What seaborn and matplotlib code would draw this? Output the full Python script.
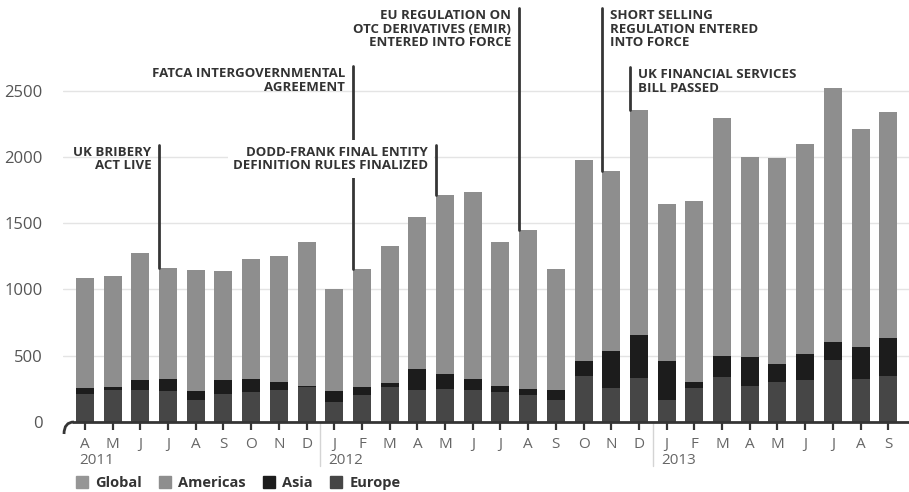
"""
plot.py
Stacked monthly bars by region with regulatory event markers.
"""

import pandas as pd
import seaborn as sns
import matplotlib.pyplot as plt
from matplotlib.path import Path
from matplotlib.patches import PathPatch, Patch
from matplotlib.transforms import IdentityTransform

MONTH_KEYS = pd.period_range("2011-04", "2013-09", freq="M").astype(str)
MONTH_LABELS = ["A", "M", "J", "J", "A", "S", "O", "N", "D",
                "J", "F", "M", "A", "M", "J", "J", "A", "S", "O", "N", "D",
                "J", "F", "M", "A", "M", "J", "J", "A", "S"]
YEARS = ["2011", "2012", "2013"]
YEAR_FIRST_BAR = [0, 9, 21]

EUROPE = [209, 239, 244, 234, 163, 214, 229, 244, 264, 151, 206, 264, 239, 251, 239,
          229, 204, 166, 345, 259, 332, 163, 254, 339, 269, 299, 314, 465, 327, 345]
ASIA = [47, 25, 75, 90, 73, 100, 95, 58, 10, 85, 58, 33, 158, 114, 88,
        42, 47, 73, 115, 276, 326, 294, 48, 156, 221, 141, 201, 138, 239, 288]
AMERICAS = [829, 836, 956, 836, 914, 826, 906, 953, 1081, 769, 889, 1028, 1150, 1345, 1406,
            1089, 1199, 913, 1515, 1357, 1694, 1186, 1365, 1801, 1506, 1552, 1583, 1919, 1646, 1702]
GLOBAL = [0] * 30

# event text, bar it points at, top of the marker line, side of the text, needs white box
EVENTS = [
    ("UK BRIBERY\nACT LIVE", 3, 2090, "left", False),
    ("FATCA INTERGOVERNMENTAL\nAGREEMENT", 10, 2685, "left", False),
    ("DODD-FRANK FINAL ENTITY\nDEFINITION RULES FINALIZED", 13, 2090, "left", True),
    ("EU REGULATION ON\nOTC DERIVATIVES (EMIR)\nENTERED INTO FORCE", 16, 3122, "left", False),
    ("SHORT SELLING\nREGULATION ENTERED\nINTO FORCE", 19, 3122, "right", False),
    ("UK FINANCIAL SERVICES\nBILL PASSED", 20, 2677, "right", False),
]

COLORS = {"Global": "#969696", "Americas": "#8e8e8e", "Asia": "#1c1c1c", "Europe": "#464646"}
DARK = "#353535"


def make_chart():
    df = pd.DataFrame({"month": MONTH_KEYS, "Europe": EUROPE, "Asia": ASIA,
                       "Americas": AMERICAS, "Global": GLOBAL})
    df["asia_top"] = df["Europe"] + df["Asia"]
    df["americas_top"] = df["asia_top"] + df["Americas"]
    df["total"] = df["americas_top"] + df["Global"]

    sns.set_style("white")
    plt.rcParams["font.family"] = ["Open Sans", "DejaVu Sans"]

    fig = plt.figure(figsize=(9.09, 4.92), dpi=100)
    ax = fig.add_axes([63 / 909, 70 / 492, 846 / 909, 384.5 / 492])

    # stacked bars, drawn as cumulative layers from the top down
    for col, name in [("total", "Global"), ("americas_top", "Americas"),
                      ("asia_top", "Asia"), ("Europe", "Europe")]:
        sns.barplot(data=df, x="month", y=col, color=COLORS[name], width=0.65,
                    saturation=1, errorbar=None, linewidth=0, ax=ax, zorder=2)

    ax.set_xlim(-0.794, 29.75)
    ax.set_ylim(0, 2900)
    ax.set_xlabel("")
    ax.set_ylabel("")
    sns.despine(ax=ax, left=True, bottom=True)

    ax.set_yticks(range(0, 2501, 500))
    ax.yaxis.grid(True, color="#e4e4e4", lw=1)
    ax.set_axisbelow(True)
    ax.tick_params(axis="y", left=False, pad=11, labelsize=12, labelcolor="#555555")

    ax.set_xticks(range(len(MONTH_LABELS)))
    ax.set_xticklabels(MONTH_LABELS)
    ax.tick_params(axis="x", bottom=True, direction="out", length=6, width=1.6,
                   color=DARK, pad=5, labelsize=11, labelcolor="#666666")

    # baseline with the rounded left end
    ax.axhline(0, xmin=10 / 846, color=DARK, lw=2, zorder=4, clip_on=False)
    curve = Path([(74, 70), (64, 70), (64, 58)], [Path.MOVETO, Path.CURVE3, Path.CURVE3])
    fig.add_artist(PathPatch(curve, fill=False, edgecolor=DARK, lw=2,
                             transform=IdentityTransform()))

    # year labels and separators
    for year, first in zip(YEARS, YEAR_FIRST_BAR):
        ax.annotate(year, xy=(first - 0.2, 0), xytext=(0, -38), textcoords="offset pixels",
                    ha="left", va="center", fontsize=11, color="#666666")
        if first > 0:
            ax.axvline(first - 0.5, ymin=-0.115, ymax=0, color="#d4d4d4", lw=1, clip_on=False)

    # event markers
    for text, bar, top, side, boxed in EVENTS:
        x = bar - 0.32
        ax.plot([x, x], [top, df["total"][bar]], color=DARK, lw=2, zorder=2, clip_on=False)
        dx = -8 if side == "left" else 8
        ha = "right" if side == "left" else "left"
        box = dict(fc="white", ec="none", pad=4) if boxed else None
        ax.annotate(text, xy=(x, top), xytext=(dx, -1), textcoords="offset pixels",
                    ha=ha, va="top", multialignment=ha, fontsize=9.5, fontweight="bold",
                    color="#333333", linespacing=1.05, zorder=3, annotation_clip=False,
                    bbox=box)

    handles = [Patch(color=COLORS[n], label=n) for n in ["Global", "Americas", "Asia", "Europe"]]
    fig.legend(handles=handles, loc="center left", bbox_to_anchor=(70 / 909, 9 / 492),
               ncol=4, frameon=False, handlelength=0.8, handleheight=0.8,
               handletextpad=0.5, columnspacing=1.2, borderaxespad=0,
               prop={"size": 10.5, "weight": "bold"}, labelcolor="#333333")

    fig.savefig("out.png", dpi=100)
    plt.close(fig)


if __name__ == "__main__":
    make_chart()
